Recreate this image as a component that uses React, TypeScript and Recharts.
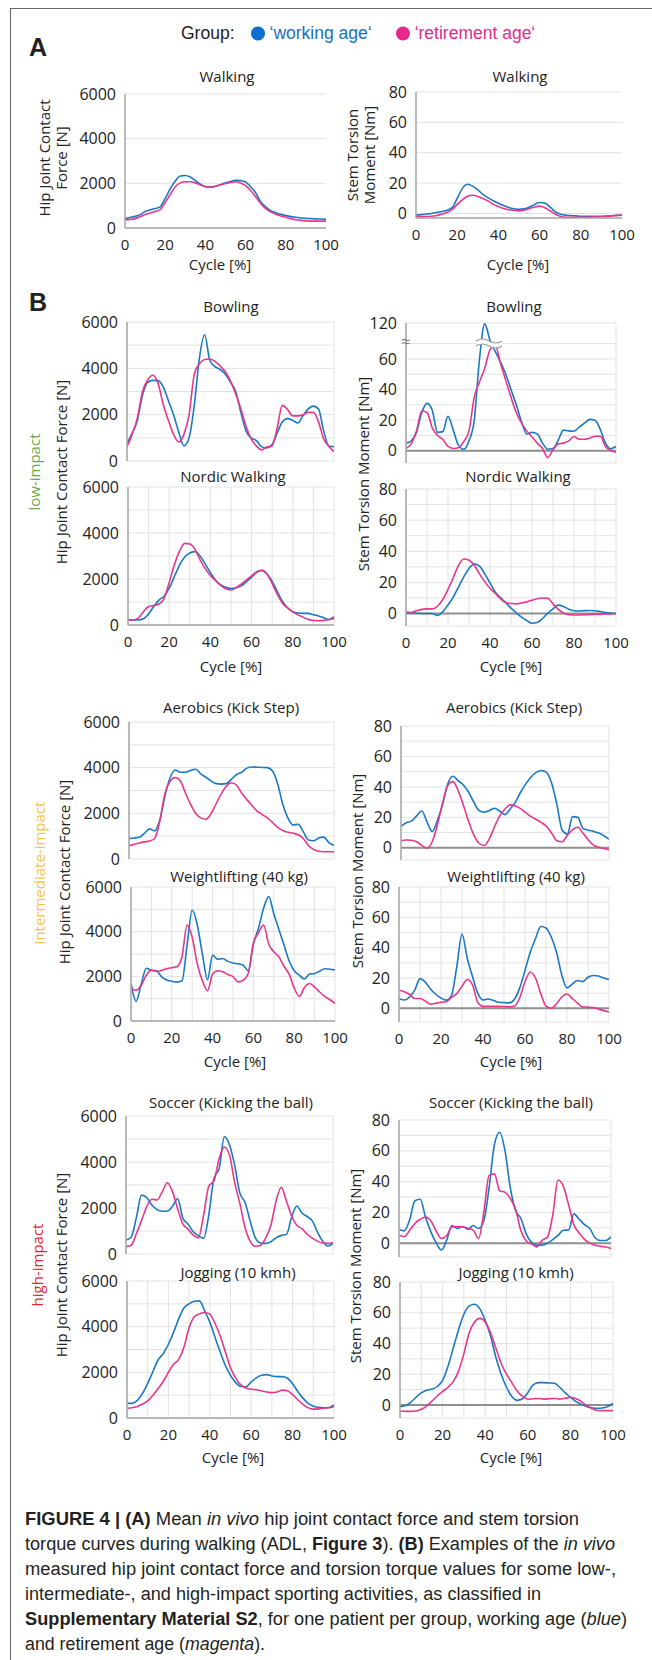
import { CartesianGrid, Line, LineChart, ReferenceLine, XAxis, YAxis } from "recharts";

// cycle positions shared by every curve (percent of the movement cycle)
const CYCLE = [
  0, 2.5, 5, 7.5, 10, 12.5, 15, 17.5, 20, 22.5, 25, 27.5, 30, 32.5, 35, 37.5, 40, 42.5, 45, 47.5, 50,
  52.5, 55, 57.5, 60, 62.5, 65, 67.5, 70, 72.5, 75, 77.5, 80, 82.5, 85, 87.5, 90, 92.5, 95, 97.5, 100,
];

// A: walking, hip joint contact force [N]
const WALK_FORCE_WORKING = [430, 470, 520, 600, 740, 810, 870, 950, 1330, 1750, 2100, 2330, 2350, 2280, 2130, 1960, 1850, 1830, 1870, 1940, 2020, 2080, 2140, 2120, 2060, 1850, 1580, 1180, 950, 780, 690, 610, 560, 510, 480, 450, 430, 420, 410, 400, 390];
const WALK_FORCE_RETIRED = [360, 380, 420, 500, 600, 670, 740, 820, 1150, 1500, 1850, 2020, 2070, 2070, 2020, 1930, 1850, 1830, 1870, 1940, 1990, 2040, 2070, 2020, 1900, 1680, 1400, 1100, 870, 720, 620, 540, 480, 420, 370, 340, 320, 310, 310, 310, 310];
// A: walking, stem torsion moment [Nm]
const WALK_TORQUE_WORKING = [-1.1, -0.8, -0.4, 0, 0.6, 1.3, 2.1, 3.8, 10, 16.5, 19.2, 18, 15.5, 12.5, 10.3, 8.4, 6.7, 5.2, 3.9, 3.1, 2.7, 3, 4.2, 5.8, 7.2, 6.9, 4.3, 1.2, -0.3, -1.1, -1.4, -1.6, -1.8, -1.8, -1.8, -1.8, -1.8, -1.7, -1.5, -1.3, -1.1];
const WALK_TORQUE_RETIRED = [-2.2, -2.1, -2, -1.8, -1.3, -0.4, 0.6, 2.5, 6, 9, 11.3, 12, 11.2, 9.8, 8.3, 6, 4.6, 3.3, 2.4, 2, 1.7, 2.2, 3.2, 4.2, 4.8, 3.8, 1.8, -0.4, -1.9, -2.6, -2.6, -2.6, -2.6, -2.5, -2.4, -2.3, -2.2, -1.9, -1.6, -1.3, -1.1];

// B low-impact: bowling
const BOWL_FORCE_WORKING = [760, 1200, 1750, 2850, 3400, 3480, 3470, 3200, 2600, 2000, 1250, 650, 1000, 2400, 4450, 5450, 4350, 4070, 3950, 3750, 3400, 3000, 2100, 1300, 1000, 880, 620, 560, 700, 1200, 1680, 1830, 1760, 1640, 1950, 2250, 2370, 2250, 1300, 650, 620];
const BOWL_FORCE_RETIRED = [620, 1150, 1850, 3000, 3500, 3700, 3350, 2450, 1750, 1150, 820, 1150, 2000, 3750, 4200, 4380, 4400, 4300, 4100, 3850, 3450, 2900, 2250, 1500, 950, 650, 480, 600, 640, 1400, 2400, 2230, 1950, 1950, 2000, 2100, 2100, 1700, 950, 640, 400];
const BOWL_TORQUE_WORKING = [5, 6.5, 12, 25, 31, 26.5, 12, 12.5, 22.5, 13.5, 3.5, 1, 6.5, 20, 60, 118, 78, 65, 58, 50, 40, 30, 19, 11, 12, 11, 5, 1, 1.5, 7, 13.5, 13, 12.8, 15.5, 18, 20.5, 20, 14, 5, 1.3, 2.8];
const BOWL_TORQUE_RETIRED = [1.7, 4.5, 13, 26, 25, 15, 10, 7.5, 2.8, 1.5, 2, 6, 13, 35, 45, 54, 66, 69, 57, 46, 35, 25, 18, 13, 9, 5, 1.5, -4.5, 0.6, 4.5, 5, 6.5, 9.3, 7.5, 7.5, 8.3, 9.5, 9.5, 2.8, 0.3, -1];

// B low-impact: nordic walking
const NORDIC_FORCE_WORKING = [220, 220, 220, 270, 480, 800, 1080, 1250, 1600, 2100, 2600, 2960, 3130, 3190, 3000, 2650, 2270, 1950, 1740, 1640, 1590, 1620, 1700, 1880, 2080, 2290, 2360, 2220, 1900, 1450, 1020, 740, 580, 520, 507, 505, 450, 395, 320, 240, 290];
const NORDIC_FORCE_RETIRED = [220, 220, 300, 580, 800, 850, 910, 1150, 1850, 2620, 3200, 3550, 3520, 3300, 2830, 2450, 2150, 1930, 1720, 1580, 1520, 1620, 1780, 1960, 2140, 2320, 2390, 2210, 1800, 1330, 950, 740, 570, 440, 340, 245, 195, 188, 200, 230, 360];
const NORDIC_TORQUE_WORKING = [0.9, 0.5, 0.2, 0, 0, 0, -1.2, 1.2, 5.5, 10.6, 17, 23.5, 29, 31.8, 30.5, 25.5, 19.7, 13.8, 10.2, 7, 3.5, 0.5, -2.3, -4.5, -6.2, -5.8, -3.2, 0.2, 3, 5.4, 4.5, 2.8, 1.8, 1.6, 1.9, 2, 1.8, 1.3, 0.7, 0.3, 0];
const NORDIC_TORQUE_RETIRED = [0.2, 0.7, 1.8, 2.7, 3, 3, 4.7, 9, 15.5, 23, 31, 35, 34.3, 31, 25.5, 20.5, 16.2, 13, 9.5, 7, 6.5, 6.2, 6.8, 7.5, 8.5, 9.5, 10, 9.8, 6.2, 2.7, 0.3, -0.8, -0.9, -0.9, -0.8, -0.6, -0.5, -0.4, -0.3, -0.2, 0];

// B intermediate-impact: aerobics (kick step)
const AEROBICS_FORCE_WORKING = [900, 920, 950, 1120, 1320, 1230, 1700, 2750, 3550, 3900, 3800, 3800, 3880, 3930, 3730, 3580, 3420, 3300, 3280, 3300, 3500, 3700, 3800, 3980, 4030, 4020, 4010, 4000, 3850, 3300, 2400, 1800, 1490, 1520, 1200, 830, 800, 920, 960, 720, 600];
const AEROBICS_FORCE_RETIRED = [585, 640, 700, 750, 790, 900, 1650, 2850, 3400, 3570, 3430, 2900, 2400, 2000, 1800, 1740, 1980, 2420, 2850, 3200, 3340, 3230, 2880, 2600, 2340, 2100, 1950, 1800, 1600, 1380, 1250, 1170, 1130, 1060, 900, 590, 420, 340, 320, 320, 320];
const AEROBICS_TORQUE_WORKING = [14, 16.5, 17.5, 21, 24.2, 17, 10.7, 18, 28.5, 42, 47, 44, 41.3, 36.5, 30, 24.5, 23.4, 24.5, 26, 24, 21.8, 25.5, 30, 36.5, 42, 46.5, 49.5, 50.8, 49.5, 42, 28, 11.5, 9, 20.5, 20, 12.7, 11.6, 10.8, 9.8, 8, 5.7];
const AEROBICS_TORQUE_RETIRED = [4.6, 5.1, 5, 4, 1.6, -0.2, 4, 15, 29.5, 41, 43.5, 37.5, 28, 17.3, 8.5, 3, 1.5, 6, 14, 21, 25.5, 28.2, 27.5, 25.7, 23, 20.5, 18.6, 16.5, 14, 9.5, 4.5, 4, 8.3, 12, 13.5, 9.5, 5.3, 1.8, 0.4, -0.5, -1.3];

// B intermediate-impact: weightlifting (40 kg)
const LIFT_FORCE_WORKING = [1690, 880, 1650, 2360, 2270, 2250, 1980, 1840, 1780, 1740, 1800, 3400, 4970, 4300, 3000, 1850, 2950, 2760, 2800, 2670, 2600, 2560, 2500, 2250, 3450, 4150, 5050, 5570, 4800, 4100, 3400, 2700, 2250, 2050, 1880, 2100, 2130, 2230, 2340, 2320, 2280];
const LIFT_FORCE_RETIRED = [1460, 1380, 1600, 2050, 2280, 2220, 2260, 2340, 2390, 2430, 2880, 4300, 3750, 2550, 1800, 1350, 2100, 2250, 2200, 2080, 1990, 1750, 1830, 2130, 3500, 3950, 4300, 3450, 3100, 2870, 2450, 2100, 1480, 1100, 1500, 1680, 1520, 1300, 1100, 950, 790];
const LIFT_TORQUE_WORKING = [6.4, 5.5, 7.5, 12, 19.6, 17.3, 12.8, 9.3, 6.8, 5.4, 8.5, 27.3, 49, 33, 21, 10, 5.5, 6.2, 5.2, 4, 3.8, 3.6, 6, 13.5, 25, 37, 46, 54, 53, 47, 37, 22, 13.5, 16, 18.4, 17.6, 20.5, 21.7, 21.3, 20, 19];
const LIFT_TORQUE_RETIRED = [11.9, 11, 9.3, 6.5, 6.5, 4.8, 2.8, 3.4, 4, 4.4, 7.3, 9.7, 14.5, 19, 15.5, 4, 1.3, 1.3, 1.3, 1.3, 1.2, 1, 1.5, 7, 17.5, 24, 20, 9.7, 1.5, 0, 3, 7.5, 9.5, 6.5, 3.5, 0.9, 0.8, 0.5, -0.5, -1.5, -2.4];

// B high-impact: soccer (kicking the ball)
const SOCCER_FORCE_WORKING = [610, 730, 1580, 2560, 2450, 2130, 1930, 1860, 1870, 2080, 2400, 1550, 1300, 970, 790, 680, 1700, 3300, 3700, 5100, 4750, 3850, 2650, 2250, 1420, 700, 480, 460, 530, 700, 810, 850, 1600, 2090, 1780, 1630, 1440, 950, 560, 350, 460];
const SOCCER_FORCE_RETIRED = [320, 380, 880, 1450, 2060, 2380, 2350, 2700, 3100, 2700, 1950, 1300, 1080, 820, 700, 1700, 2950, 3180, 4150, 4650, 4300, 3100, 2200, 1150, 550, 340, 370, 700, 1250, 2300, 2900, 2300, 1650, 1250, 1100, 860, 690, 560, 480, 460, 490];
const SOCCER_TORQUE_WORKING = [8.9, 8, 15, 27.5, 28.5, 17, 7.5, 0.3, -4.5, 2, 11.5, 9.6, 10.8, 9, 11.5, 9.5, 14.5, 36, 64, 72, 60, 36, 21, 16, 6, 0.5, -1.3, -1.3, 0, 2.3, 5, 8.4, 8.5, 19, 15.5, 12, 9.5, 3.5, 1.7, 1.7, 4.1];
const SOCCER_TORQUE_RETIRED = [5.2, 4.2, 8.2, 12.8, 15.5, 17, 14.5, 8, 3, 5, 10.5, 10.8, 10.6, 9.6, 8.5, 3, 20, 44, 45, 34, 33, 29, 22, 8, 1.5, -0.5, -2.4, 1.8, 3.8, 18, 41, 37, 25, 12, 6.5, 2.5, 0, -1.3, -2, -2.5, -3.5];

// B high-impact: jogging (10 km/h)
const JOG_FORCE_WORKING = [640, 640, 770, 1080, 1520, 2030, 2540, 2820, 3230, 3750, 4350, 4820, 5000, 5110, 5130, 4700, 4200, 3540, 2900, 2300, 1870, 1550, 1380, 1370, 1580, 1760, 1870, 1900, 1840, 1810, 1810, 1740, 1500, 1160, 870, 640, 520, 470, 450, 460, 570];
const JOG_FORCE_RETIRED = [420, 450, 500, 610, 750, 1000, 1280, 1600, 2000, 2350, 2570, 3100, 3950, 4430, 4560, 4620, 4550, 4150, 3600, 2900, 2200, 1750, 1450, 1310, 1260, 1240, 1190, 1140, 1110, 1140, 1220, 1190, 1020, 800, 600, 450, 390, 400, 430, 450, 500];
const JOG_TORQUE_WORKING = [-1.1, -0.5, 1.7, 5, 7.8, 9.5, 10.3, 12, 16, 25, 37, 49, 59, 64.5, 65.5, 62.5, 55, 45, 31, 20, 11.5, 5.5, 3, 4, 8, 13, 14.5, 14.5, 14.3, 14.1, 11.5, 8, 5, 2.3, 0.5, -1, -1.8, -2.2, -2, -1.1, 1.1];
const JOG_TORQUE_RETIRED = [-3.9, -4.2, -4.2, -3.9, -2.8, -0.7, 2.5, 5.8, 8.8, 11.5, 15.2, 22, 33.5, 47, 54, 56.3, 54, 47, 37, 27, 20, 14.5, 9, 5.5, 3.7, 4, 4.2, 3.8, 4, 4.2, 3.8, 4.3, 5, 4.2, 2.3, -0.5, -2.3, -3.6, -3.7, -3.7, -3.7];

// axis ticks
const CYCLE_TICKS_A = [0, 20, 40, 60, 80, 100];
const CYCLE_TICKS_B = [0, 10, 20, 30, 40, 50, 60, 70, 80, 90, 100];
const FORCE_TICKS_A = [0, 2000, 4000, 6000];
const FORCE_TICKS_B = [0, 1000, 2000, 3000, 4000, 5000, 6000];
const TORQUE_TICKS_A = [0, 20, 40, 60, 80];
const TORQUE_TICKS_B = [0, 10, 20, 30, 40, 50, 60, 70, 80];
const BOWL_TORQUE_TICKS = [0, 10, 20, 30, 40, 50, 60, 70, 120];

const BLUE = "#1b78c4";
const MAGENTA = "#e8368b";
const GRID = "#e2e2e2";
const AXIS = "#a6a6a6";
const ZERO = "#8f8f8f";
const INK = "#222";
const SANS = '"Open Sans", "Noto Sans", sans-serif';
const ARIAL = '"Liberation Sans", Arial, sans-serif';

// bowling torque axis is broken above 70 Nm
const BREAK = 70;
const SQUEEZE = 0.27;
const brk = (v: number) => (v > BREAK ? BREAK + (v - BREAK) * SQUEEZE : v);
const unbrk = (v: number) => (v > BREAK + 0.01 ? BREAK + (v - BREAK) / SQUEEZE : v);

const every = (step: number) => (v: number) => {
  const r = Math.round(v);
  return r % step === 0 ? String(r) : "";
};

type PanelCfg = {
  x0: number; x1: number; y0: number; y1: number;
  domain: [number, number];
  yTicks: number[];
  yFmt: (v: number) => string;
  xTicks: number[];
  xLabels: boolean;
  work: number[];
  retire: number[];
  torsion: boolean;
  vGrid: boolean;
  bottomAxis: boolean;
  mapY?: (v: number) => number;
};

const YW = 60;
const MT = 10;
const MR = 14;

function Panel({ cfg }: { cfg: PanelCfg }) {
  const f = cfg.mapY ?? ((v: number) => v);
  const rows = CYCLE.map((c, i) => ({ c, w: f(cfg.work[i]), r: f(cfg.retire[i]) }));
  const XH = cfg.xLabels ? 28 : 0;
  const MB = cfg.xLabels ? 0 : 12; // room for the lowest y tick label
  const width = YW + (cfg.x1 - cfg.x0) + MR;
  const height = MT + (cfg.y1 - cfg.y0) + XH + MB;
  return (
    <div style={{ position: "absolute", left: cfg.x0 - YW, top: cfg.y0 - MT }}>
      <LineChart width={width} height={height} data={rows} margin={{ top: MT, right: MR, bottom: MB, left: 0 }}>
        <CartesianGrid stroke={GRID} vertical={cfg.vGrid} />
        <XAxis
          type="number"
          dataKey="c"
          domain={[0, 100]}
          ticks={cfg.xTicks}
          interval={0}
          allowDataOverflow
          height={XH}
          axisLine={cfg.bottomAxis ? { stroke: AXIS, strokeWidth: 1.5 } : false}
          tickLine={false}
          tickMargin={5}
          tick={cfg.xLabels ? { fontSize: 15, fill: INK, fontFamily: SANS } : false}
          tickFormatter={every(20)}
        />
        <YAxis
          type="number"
          domain={cfg.domain}
          ticks={cfg.yTicks.map(f)}
          interval={0}
          allowDataOverflow
          width={YW}
          axisLine={{ stroke: AXIS, strokeWidth: 1.5 }}
          tickLine={false}
          tickMargin={3}
          tick={{ fontSize: 16, fill: INK, fontFamily: SANS }}
          tickFormatter={cfg.yFmt}
        />
        {cfg.torsion && <ReferenceLine y={0} stroke={ZERO} strokeWidth={2} />}
        <Line type="monotone" dataKey="w" stroke={BLUE} strokeWidth={1.6} dot={false} isAnimationActive={false} />
        <Line type="monotone" dataKey="r" stroke={MAGENTA} strokeWidth={1.6} dot={false} isAnimationActive={false} />
      </LineChart>
    </div>
  );
}

const forceB = (x0: number, x1: number, y0: number, y1: number, work: number[], retire: number[], xLabels: boolean): PanelCfg => ({
  x0, x1, y0, y1, domain: [0, 6000], yTicks: FORCE_TICKS_B, yFmt: every(2000), xTicks: CYCLE_TICKS_B,
  xLabels, work, retire, torsion: false, vGrid: true, bottomAxis: true,
});

const torqueB = (x0: number, x1: number, y0: number, y1: number, lo: number, work: number[], retire: number[], xLabels: boolean): PanelCfg => ({
  x0, x1, y0, y1, domain: [lo, 80], yTicks: TORQUE_TICKS_B, yFmt: every(20), xTicks: CYCLE_TICKS_B,
  xLabels, work, retire, torsion: true, vGrid: true, bottomAxis: false,
});

const PANELS: PanelCfg[] = [
  {
    x0: 125, x1: 326, y0: 94, y1: 228, domain: [0, 6000], yTicks: FORCE_TICKS_A, yFmt: every(2000),
    xTicks: CYCLE_TICKS_A, xLabels: true, work: WALK_FORCE_WORKING, retire: WALK_FORCE_RETIRED,
    torsion: false, vGrid: false, bottomAxis: true,
  },
  {
    x0: 416, x1: 622, y0: 92, y1: 218, domain: [-3, 80], yTicks: TORQUE_TICKS_A, yFmt: every(20),
    xTicks: CYCLE_TICKS_A, xLabels: true, work: WALK_TORQUE_WORKING, retire: WALK_TORQUE_RETIRED,
    torsion: false, vGrid: false, bottomAxis: true,
  },
  forceB(127, 334, 322, 461, BOWL_FORCE_WORKING, BOWL_FORCE_RETIRED, false),
  {
    x0: 406, x1: 616, y0: 323, y1: 463, domain: [-8, brk(120)], yTicks: BOWL_TORQUE_TICKS,
    yFmt: (v: number) => every(20)(unbrk(v)), xTicks: CYCLE_TICKS_B, xLabels: false,
    work: BOWL_TORQUE_WORKING, retire: BOWL_TORQUE_RETIRED, torsion: true, vGrid: true, bottomAxis: false, mapY: brk,
  },
  forceB(128, 334, 487, 625, NORDIC_FORCE_WORKING, NORDIC_FORCE_RETIRED, true),
  torqueB(406, 616, 489, 626, -8, NORDIC_TORQUE_WORKING, NORDIC_TORQUE_RETIRED, true),
  forceB(129, 334, 722, 859, AEROBICS_FORCE_WORKING, AEROBICS_FORCE_RETIRED, false),
  torqueB(401, 609, 726, 860, -8, AEROBICS_TORQUE_WORKING, AEROBICS_TORQUE_RETIRED, false),
  forceB(131, 335, 887, 1021, LIFT_FORCE_WORKING, LIFT_FORCE_RETIRED, true),
  torqueB(399, 609, 887, 1022, -9, LIFT_TORQUE_WORKING, LIFT_TORQUE_RETIRED, true),
  forceB(126, 333, 1116, 1254, SOCCER_FORCE_WORKING, SOCCER_FORCE_RETIRED, false),
  torqueB(399, 611, 1120, 1257, -9, SOCCER_TORQUE_WORKING, SOCCER_TORQUE_RETIRED, false),
  forceB(127, 334, 1281, 1418, JOG_FORCE_WORKING, JOG_FORCE_RETIRED, true),
  torqueB(400, 613, 1282, 1418, -8.5, JOG_TORQUE_WORKING, JOG_TORQUE_RETIRED, true),
];

const TITLES: [string, number, number][] = [
  ["Walking", 227, 77], ["Walking", 520, 77],
  ["Bowling", 231, 307], ["Bowling", 514, 307],
  ["Nordic Walking", 233, 477], ["Nordic Walking", 518, 477],
  ["Aerobics (Kick Step)", 231, 708], ["Aerobics (Kick Step)", 514, 708],
  ["Weightlifting (40 kg)", 239, 877], ["Weightlifting (40 kg)", 516, 877],
  ["Soccer (Kicking the ball)", 231, 1103], ["Soccer (Kicking the ball)", 511, 1103],
  ["Jogging (10 kmh)", 238, 1273], ["Jogging (10 kmh)", 516, 1273],
];

const CYCLE_LABELS: [number, number][] = [
  [220, 265], [518, 265], [231, 667], [511, 667], [235, 1062], [511, 1062], [233, 1458], [511, 1458],
];

const Y_LABELS: [string, number, number][] = [
  ["Hip Joint Contact Force [N]", 62, 472], ["Stem Torsion Moment [Nm]", 364, 474],
  ["Hip Joint Contact Force [N]", 65, 872], ["Stem Torsion Moment [Nm]", 358, 871],
  ["Hip Joint Contact Force [N]", 62, 1265], ["Stem Torsion Moment [Nm]", 356, 1266],
];

const GROUPS: [string, string, number, number][] = [
  ["low-impact", "#6aaa45", 35, 472],
  ["intermediate-impact", "#f6c544", 40, 873],
  ["high-impact", "#e8262d", 38, 1265],
];

function Txt({ x, y, children, size = 15, color = INK, rotate = false, family = SANS, weight = 400, align = "center" }: any) {
  return (
    <div
      style={{
        position: "absolute", left: x, top: y,
        transform: `translate(-50%, -50%)${rotate ? " rotate(-90deg)" : ""}`,
        whiteSpace: "nowrap", fontSize: size, color, fontFamily: family, fontWeight: weight,
        lineHeight: 1.15, textAlign: align,
      }}
    >
      {children}
    </div>
  );
}

function Wave({ x, y, w }: { x: number; y: number; w: number }) {
  const h = w / 2;
  return (
    <svg style={{ position: "absolute", left: x, top: y - 7 }} width={w} height={14}>
      <path d={`M0,5 Q${h / 2},1 ${h},5 T${w},5 L${w},10 Q${w - h / 2},14 ${h},10 T0,10 Z`} fill="#fff" />
      <path d={`M0,5 Q${h / 2},1 ${h},5 T${w},5`} fill="none" stroke="#9a9a9a" strokeWidth={1.2} />
      <path d={`M0,10 Q${h / 2},6 ${h},10 T${w},10`} fill="none" stroke="#9a9a9a" strokeWidth={1.2} />
    </svg>
  );
}

const CAPTION_X = 25;

export default function App() {
  return (
    <div style={{ position: "absolute", left: 0, top: 0, width: 652, height: 1660, background: "#fff", overflow: "hidden" }}>
      {/* outer frame */}
      <div style={{ position: "absolute", left: 10, top: 8, width: 660, height: 1700, borderLeft: "1.5px solid #666", borderTop: "1.5px solid #666" }} />

      <Txt x={38} y={47} size={25} weight={700} family={ARIAL}>A</Txt>
      <Txt x={38} y={302} size={25} weight={700} family={ARIAL}>B</Txt>

      {/* legend */}
      <div style={{ position: "absolute", left: 181, top: 33, transform: "translateY(-50%)", display: "flex", alignItems: "center", fontFamily: ARIAL, fontSize: 17.5, whiteSpace: "nowrap" }}>
        <span style={{ color: INK }}>Group:</span>
        <span style={{ display: "inline-block", width: 14, height: 14, borderRadius: 7, background: "#0b6fd0", marginLeft: 16, marginRight: 5 }} />
        <span style={{ color: "#1a6fc0" }}>‘working age‘</span>
        <span style={{ display: "inline-block", width: 14, height: 14, borderRadius: 7, background: "#e8288c", marginLeft: 24, marginRight: 5 }} />
        <span style={{ color: "#e02c88" }}>‘retirement age‘</span>
      </div>

      {PANELS.map((p, i) => (
        <Panel key={i} cfg={p} />
      ))}

      {/* broken axis marks on the bowling torque chart */}
      <Txt x={406} y={342} size={16} color="#777" family={ARIAL}>≈</Txt>
      <Wave x={476} y={343} w={26} />

      {TITLES.map(([t, x, y], i) => (
        <Txt key={`t${i}`} x={x} y={y} size={15}>{t}</Txt>
      ))}
      {CYCLE_LABELS.map(([x, y], i) => (
        <Txt key={`c${i}`} x={x} y={y} size={15}>Cycle [%]</Txt>
      ))}
      {Y_LABELS.map(([t, x, y], i) => (
        <Txt key={`y${i}`} x={x} y={y} size={15} rotate>{t}</Txt>
      ))}
      {GROUPS.map(([t, c, x, y], i) => (
        <Txt key={`g${i}`} x={x} y={y} size={15} color={c} rotate>{t}</Txt>
      ))}
      <Txt x={53} y={158} size={15} rotate>Hip Joint Contact<br />Force [N]</Txt>
      <Txt x={361} y={155} size={15} rotate>Stem Torsion<br />Moment [Nm]</Txt>

      {/* caption */}
      <svg style={{ position: "absolute", left: 0, top: 1500 }} width={652} height={160} fontFamily={ARIAL} fontSize={18} fill="#231f20">
        <text x={CAPTION_X} y={25} textLength={554} lengthAdjust="spacingAndGlyphs">
          <tspan fontWeight={700}>FIGURE 4 | (A)</tspan> Mean <tspan fontStyle="italic">in vivo</tspan> hip joint contact force and stem torsion
        </text>
        <text x={CAPTION_X} y={50} textLength={590} lengthAdjust="spacingAndGlyphs">
          torque curves during walking (ADL, <tspan fontWeight={700}>Figure 3</tspan>). <tspan fontWeight={700}>(B)</tspan> Examples of the <tspan fontStyle="italic">in vivo</tspan>
        </text>
        <text x={CAPTION_X} y={75} textLength={591} lengthAdjust="spacingAndGlyphs">
          measured hip joint contact force and torsion torque values for some low-,
        </text>
        <text x={CAPTION_X} y={100} textLength={516} lengthAdjust="spacingAndGlyphs">
          intermediate-, and high-impact sporting activities, as classified in
        </text>
        <text x={CAPTION_X} y={125} textLength={602} lengthAdjust="spacingAndGlyphs">
          <tspan fontWeight={700}>Supplementary Material S2</tspan>, for one patient per group, working age (<tspan fontStyle="italic">blue</tspan>)
        </text>
        <text x={CAPTION_X} y={150} textLength={240} lengthAdjust="spacingAndGlyphs">
          and retirement age (<tspan fontStyle="italic">magenta</tspan>).
        </text>
      </svg>
    </div>
  );
}
